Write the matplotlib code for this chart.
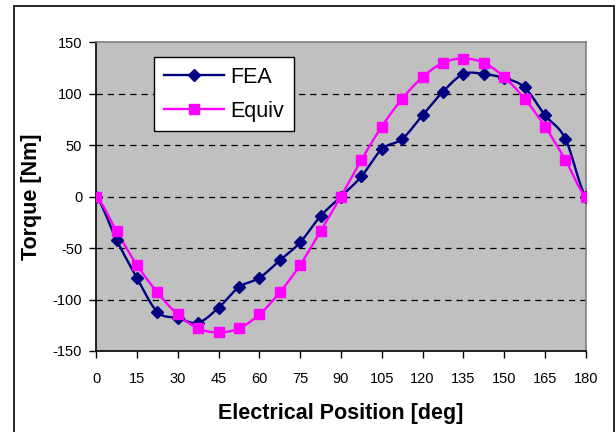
import numpy as np
import matplotlib
matplotlib.use('Agg')
import matplotlib.pyplot as plt
from matplotlib.patches import Rectangle

plt.rcParams['font.family'] = ['Liberation Sans', 'DejaVu Sans']
plt.rcParams['axes.unicode_minus'] = False

position = [0, 7.5, 15, 22.5, 30, 37.5, 45, 52.5, 60, 67.5, 75, 82.5, 90,
            97.5, 105, 112.5, 120, 127.5, 135, 142.5, 150, 157.5, 165, 172.5, 180]
fea = [0, -42, -79, -112, -118, -122.5, -108, -88, -79, -62, -44.5, -19, 0,
       19.5, 46, 56, 79, 102, 119, 119, 115, 106, 79, 56, 0]
equiv = [0, -33.5, -66.5, -93, -114.5, -128, -132, -128, -114.5, -93, -66.5, -33.5, 0,
         35.5, 68, 95, 116, 130, 134, 130, 116, 95, 68, 35.5, 0]
x_ticks = list(range(0, 181, 15))
y_ticks = [-150, -100, -50, 0, 50, 100, 150]


def smooth(x, y, n=12):
    # Catmull-Rom curve through the points, like Excel's smoothed line
    x = np.asarray(x, float)
    y = np.asarray(y, float)
    xp = np.concatenate([[2 * x[0] - x[1]], x, [2 * x[-1] - x[-2]]])
    yp = np.concatenate([[y[0]], y, [y[-1]]])
    xs, ys = [], []
    t = np.linspace(0, 1, n, endpoint=False)
    for i in range(1, len(xp) - 2):
        p0, p1, p2, p3 = yp[i - 1], yp[i], yp[i + 1], yp[i + 2]
        m1 = (p2 - p0) / 2
        m2 = (p3 - p1) / 2
        h00 = 2 * t**3 - 3 * t**2 + 1
        h10 = t**3 - 2 * t**2 + t
        h01 = -2 * t**3 + 3 * t**2
        h11 = t**3 - t**2
        ys.append(h00 * p1 + h10 * m1 + h01 * p2 + h11 * m2)
        xs.append(xp[i] + t * (xp[i + 1] - xp[i]))
    xs.append([x[-1]])
    ys.append([y[-1]])
    return np.concatenate(xs), np.concatenate(ys)


fig = plt.figure(figsize=(6.16, 4.32), dpi=100)
ax = fig.add_axes([0.156, 0.1875, 0.795, 0.715])
ax.set_facecolor('#C0C0C0')

navy = '#000080'
magenta = '#FF00FF'

sx, sy = smooth(position, fea)
ax.plot(sx, sy, color=navy, lw=1.7, zorder=3)
ax.plot(position, fea, ls='none', marker='D', ms=6.5, color=navy, zorder=4)
sx, sy = smooth(position, equiv)
ax.plot(sx, sy, color=magenta, lw=1.7, zorder=3)
ax.plot(position, equiv, ls='none', marker='s', ms=6.5, color=magenta, zorder=4)

# legend proxies
h1, = ax.plot([], [], color=navy, lw=1.7, marker='D', ms=6.5)
h2, = ax.plot([], [], color=magenta, lw=1.7, marker='s', ms=6.5)
leg = ax.legend([h1, h2], ['FEA', 'Equiv'], loc='upper left',
                bbox_to_anchor=(0.118, 0.952), fontsize=15.5, fancybox=False,
                framealpha=1, edgecolor='black', handlelength=2.8,
                borderpad=0.45, labelspacing=0.6, handletextpad=0.3,
                borderaxespad=0)
leg.get_frame().set_linewidth(1.0)

ax.set_xlim(0, 180)
ax.set_ylim(-150, 150)
ax.set_xticks(x_ticks)
ax.set_yticks(y_ticks)
for v in [-100, -50, 0, 50, 100]:
    ax.axhline(v, color='black', lw=0.9, ls=(0, (5, 4)), zorder=1)

ax.tick_params(direction='out', length=5, width=1, labelsize=10.5)
ax.tick_params(axis='x', pad=10)
ax.tick_params(axis='y', pad=5)
ax.spines['left'].set_color('black')
ax.spines['bottom'].set_color('black')
ax.spines['top'].set_color('#808080')
ax.spines['right'].set_color('#808080')
for s in ax.spines.values():
    s.set_linewidth(1.2)

ax.set_xlabel('Electrical Position [deg]', fontsize=15.5, fontweight='bold', labelpad=12)
ax.set_ylabel('Torque [Nm]', fontsize=15.5, fontweight='bold', labelpad=8)

fig.patches.append(Rectangle((0.023, -0.01), 0.974, 0.997, transform=fig.transFigure,
                             fill=False, edgecolor='black', lw=1.2))

fig.savefig('out.png', dpi=100)
